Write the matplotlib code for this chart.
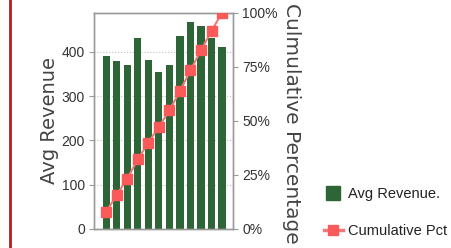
import numpy as np
import matplotlib
matplotlib.use("Agg")
import matplotlib.pyplot as plt
from matplotlib.lines import Line2D


# bar values (12 groups, x labels cut off in the source)
revenue = [390, 378, 369, 430, 381, 355, 369, 436, 466, 457, 432, 411]
left_ticks = [0, 100, 200, 300, 400]
right_ticks = [0, 0.25, 0.5, 0.75, 1.0]
right_labels = ["0%", "25%", "50%", "75%", "100%"]

GREEN = "#2e6537"
RED = "#fa5a5a"
GREY = "#9a9a9a"

plt.rcParams['font.family'] = ['Liberation Sans', 'DejaVu Sans']

x = np.arange(len(revenue))
cum_pct = np.cumsum(revenue) / np.sum(revenue)

W, H = 452, 248
fig = plt.figure(figsize=(W / 100, H / 100), dpi=100)
ax = fig.add_axes([94 / W, 1 - 229 / H, (233 - 94) / W, (229 - 12.7) / H])
ax2 = ax.twinx()

ax.bar(x, revenue, width=0.68, color=GREEN, zorder=2)
ax.set_xlim(-1.16, 12.04)
ax.set_ylim(0, 488)
ax.set_yticks(left_ticks)
ax.set_xticks([])
ax.yaxis.grid(True, linestyle=':', color='#c0c0c0', lw=0.8)
ax.set_axisbelow(True)

ax2.plot(x, cum_pct, color='#f07a7a', lw=1.5, marker='s', markersize=6.5,
         markerfacecolor=RED, markeredgecolor=RED, zorder=3)
ax2.set_ylim(0, 1.0)
ax2.set_yticks(right_ticks)
ax2.set_yticklabels(right_labels)

for a in (ax, ax2):
    for s in a.spines.values():
        s.set_color(GREY)
        s.set_linewidth(1)
    a.tick_params(axis='y', length=3.6, width=0.8, color=GREY, pad=3,
                  labelsize=10, labelcolor='#333333')

fig.text(50 / W, 1 - 121 / H, "Avg Revenue", rotation=90, ha='center',
         va='center', fontsize=14, color='#444444', family='DejaVu Sans')
fig.text(292 / W, 1 - 123 / H, "Culmulative Percentage", rotation=-90,
         ha='center', va='center', fontsize=14.5, color='#444444',
         family='DejaVu Sans')

# red frame edge on the left of the original screenshot
fig.add_artist(Line2D([9.5 / W, 9.5 / W], [0, 1], color='#b41e1e', lw=2))

handles = [Line2D([], [], ls='none', marker='s', markersize=9.5,
                  markerfacecolor=GREEN, markeredgecolor=GREEN),
           Line2D([], [], color='#f07a7a', lw=2.5, marker='s', markersize=7,
                  markerfacecolor=RED, markeredgecolor=RED)]
fig.legend(handles, ["Avg Revenue.", "Cumulative Pct"], loc='upper left',
           bbox_to_anchor=(324 / W, 1 - 187 / H), frameon=False, fontsize=10.5,
           handlelength=1.3, handletextpad=0.35, labelspacing=1.55,
           borderaxespad=0, borderpad=0, labelcolor='#222222')

fig.savefig("out.png", dpi=100)
